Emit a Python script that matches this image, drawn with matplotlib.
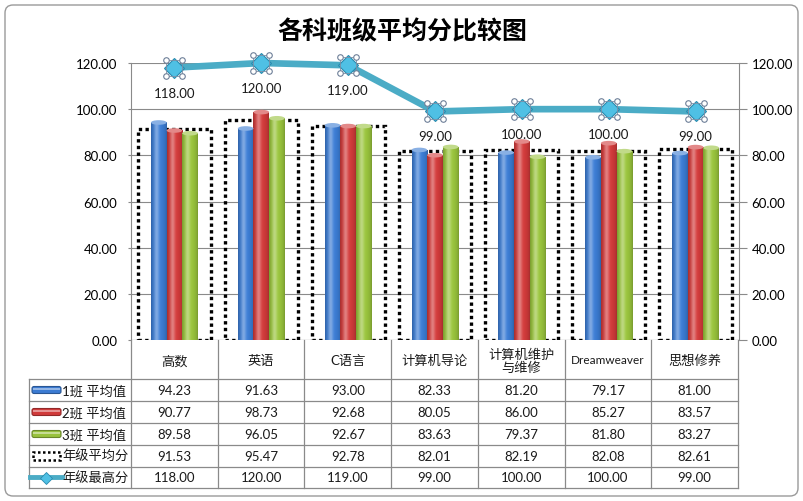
import numpy as np
import matplotlib
matplotlib.use("Agg")
import matplotlib.pyplot as plt
from matplotlib.patches import Rectangle, FancyBboxPatch, Ellipse
from matplotlib.lines import Line2D
from matplotlib.transforms import IdentityTransform, offset_copy
from matplotlib.colors import to_rgb

plt.rcParams['font.family'] = ['Lato', 'Noto Sans CJK SC', 'DejaVu Sans']

# ---------------- data ----------------
title = "各科班级平均分比较图"
categories = ["高数", "英语", "C语言", "计算机导论", "计算机维护\n与维修", "Dreamweaver", "思想修养"]
class1 = [94.23, 91.63, 93.00, 82.33, 81.20, 79.17, 81.00]
class2 = [90.77, 98.73, 92.68, 80.05, 86.00, 85.27, 83.57]
class3 = [89.58, 96.05, 92.67, 83.63, 79.37, 81.80, 83.27]
grade_avg = [91.53, 95.47, 92.78, 82.01, 82.19, 82.08, 82.61]
grade_max = [118.00, 120.00, 119.00, 99.00, 100.00, 100.00, 99.00]
series_names = ["1班 平均值", "2班 平均值", "3班 平均值", "年级平均分", "年级最高分"]
yticks = [0, 20, 40, 60, 80, 100, 120]

W, H = 804, 502
fig = plt.figure(figsize=(W / 100, H / 100), dpi=100)
fig.patch.set_facecolor('white')
ID = IdentityTransform()
FS = 9


def Y(y):
    return H - y


# outer chart frame
frame = FancyBboxPatch((5, Y(497)), 793, 491, boxstyle="round,pad=0,rounding_size=8",
                       transform=ID, facecolor='white', edgecolor='#9a9a9a', lw=1.0, zorder=-5)
fig.patches.append(frame)

ax = fig.add_axes([131 / W, (H - 341) / H, 608 / W, 277 / H])
ax.set_facecolor('none')
ax.set_zorder(2)
x = np.arange(len(categories))

blue, red, green = '#3B7BD2', '#D03A3A', '#98C23C'
teal = '#4BACC6'


def shade_img(color, n=64):
    base = np.array(to_rgb(color))
    t = np.linspace(0, 1, n)
    hi = np.exp(-((t - 0.35) / 0.16) ** 2)
    dark = 0.78 + 0.24 * np.sin(np.pi * t) ** 0.6
    rows = []
    for a, d in zip(hi, dark):
        c = base * d
        c = c + (1 - c) * 0.35 * a
        rows.append(np.clip(c, 0, 1))
    return np.array(rows)[None, :, :]


def gradient_bars(bars, color):
    img = shade_img(color)
    base = np.array(to_rgb(color))
    for b in bars:
        x0, w, h = b.get_x(), b.get_width(), b.get_height()
        b.set_facecolor('none')
        im = ax.imshow(img, extent=[x0, x0 + w, 0, h], aspect='auto', zorder=3,
                       interpolation='bilinear')
        im.set_clip_path(b)
        cap = Ellipse((x0 + w / 2, h), w, 2.0, facecolor=np.clip(base + (1 - base) * 0.4, 0, 1),
                      edgecolor='none', lw=0, zorder=4)
        ax.add_patch(cap)


bw = 0.18
# grade average: dotted outline boxes
ax.bar(x, grade_avg, width=0.84, fill=False, edgecolor='black', linewidth=2.4,
       linestyle=(0, (1, 1)), zorder=2)
b1 = ax.bar(x - bw, class1, width=bw, color=blue, zorder=3, lw=0)
b2 = ax.bar(x, class2, width=bw, color=red, zorder=3, lw=0)
b3 = ax.bar(x + bw, class3, width=bw, color=green, zorder=3, lw=0)
gradient_bars(b1, blue)
gradient_bars(b2, red)
gradient_bars(b3, green)

# grade max line
ax.plot(x, grade_max, color=teal, lw=4.8, zorder=6, clip_on=False, solid_capstyle='round')
ax.plot(x, grade_max, ls='none', marker='D', markersize=10, mfc='#4FC0E4', mec='#2A8AAE',
        mew=0.8, zorder=7, clip_on=False)
# selection handles
ax.plot(x, grade_max, ls='none', marker='s', markersize=11.5, mfc='none', mec='#7d8fa6',
        mew=0.6, zorder=8, clip_on=False)
for dx, dy in [(-8, 8), (8, 8), (-8, -8), (8, -8)]:
    tr = offset_copy(ax.transData, fig=fig, x=dx, y=dy, units='dots')
    ax.plot(x, grade_max, ls='none', marker='o', markersize=4, mfc='white', mec='#6d7f98',
            mew=0.8, transform=tr, zorder=9, clip_on=False)
for xi, v in zip(x, grade_max):
    ax.annotate(f"{v:.2f}", (xi, v), xytext=(0, -18), textcoords='offset points',
                ha='center', va='center', fontsize=FS + 0.5, color='#1a1a1a', zorder=10)

ax.set_xlim(-0.5, len(categories) - 0.5)
ax.set_ylim(0, 120)
ax.set_yticks(yticks)
ax.set_yticklabels([f"{v:.2f}" for v in yticks])
ax.set_xticks([])
ax.yaxis.grid(True, color='#8a8a8a', lw=0.8)
ax.set_axisbelow(True)
for s in ['top', 'bottom']:
    ax.spines[s].set_visible(False)
for s in ['left', 'right']:
    ax.spines[s].set_color('#8a8a8a')
    ax.spines[s].set_linewidth(0.8)
ax.tick_params(axis='y', which='both', left=True, right=True, labelleft=True, labelright=True,
               length=6, width=0.8, color='#8a8a8a', labelsize=FS + 0.5, pad=3, direction='out')
for t in ax.yaxis.get_major_ticks():
    t.tick1line.set_markersize(2)
    t.label1.set_x(-0.002)
ax.axhline(0, color='#8a8a8a', lw=0.8, zorder=1)

# ---------------- data table ----------------
col_edges = [131 + i * (607 / 7) for i in range(8)]
row_edges = [380, 402, 424, 446, 467.5, 489]
gc = '#8a8a8a'


def hline(x0, x1, y):
    fig.lines.append(Line2D([x0, x1], [Y(y), Y(y)], transform=ID, color=gc, lw=0.9))


def vline(xx, y0, y1):
    fig.lines.append(Line2D([xx, xx], [Y(y0), Y(y1)], transform=ID, color=gc, lw=0.9))


for yy in row_edges:
    hline(29, 738, yy)
for xx in col_edges:
    vline(xx, 341, 489)
vline(29, 380, 489)

for i, cat in enumerate(categories):
    cx = (col_edges[i] + col_edges[i + 1]) / 2
    fig.text(cx, Y(361), cat, transform=ID, ha='center', va='center',
             fontsize=FS - 0.5 if cat.isascii() else FS + 0.5,
             color='#1a1a1a', linespacing=1.1)

table_rows = [class1, class2, class3, grade_avg, grade_max]
for r, vals in enumerate(table_rows):
    cy = (row_edges[r] + row_edges[r + 1]) / 2
    for i, v in enumerate(vals):
        cx = (col_edges[i] + col_edges[i + 1]) / 2
        fig.text(cx, Y(cy), f"{v:.2f}", transform=ID, ha='center', va='center',
                 fontsize=FS + 0.5, color='#1a1a1a')
    fig.text(62, Y(cy), series_names[r], transform=ID, ha='left', va='center',
             fontsize=FS + 0.5, color='#1a1a1a')

# legend keys
for r, col in enumerate([blue, red, green]):
    cy = (row_edges[r] + row_edges[r + 1]) / 2
    base = np.array(to_rgb(col))
    p = FancyBboxPatch((32, Y(cy + 3.5)), 29, 7, boxstyle="round,pad=0,rounding_size=2",
                       transform=ID, facecolor=col, edgecolor=base * 0.7, lw=0.8)
    fig.patches.append(p)
    fig.patches.append(Rectangle((33, Y(cy - 0.5)), 27, 2, transform=ID,
                                 facecolor=np.clip(base + (1 - base) * 0.45, 0, 1), lw=0))
cy = (row_edges[3] + row_edges[4]) / 2
fig.patches.append(Rectangle((33, Y(cy + 4)), 27, 8, transform=ID, fill=False,
                             edgecolor='black', lw=1.8, linestyle=(0, (1, 1))))
cy = (row_edges[4] + row_edges[5]) / 2
fig.lines.append(Line2D([30, 62], [Y(cy), Y(cy)], transform=ID, color=teal, lw=3.5))
fig.lines.append(Line2D([46], [Y(cy + 1)], transform=ID, marker='D', markersize=6,
                        mfc='#4FC0E4', mec='#2A8AAE', mew=0.6, ls='none'))

# title
fig.text(402, Y(32), title, transform=ID, ha='center', va='center', fontsize=18,
         fontweight='bold', family=['Noto Sans CJK SC', 'DejaVu Sans'], color='black')

fig.savefig("out.png", dpi=100, facecolor='white')
